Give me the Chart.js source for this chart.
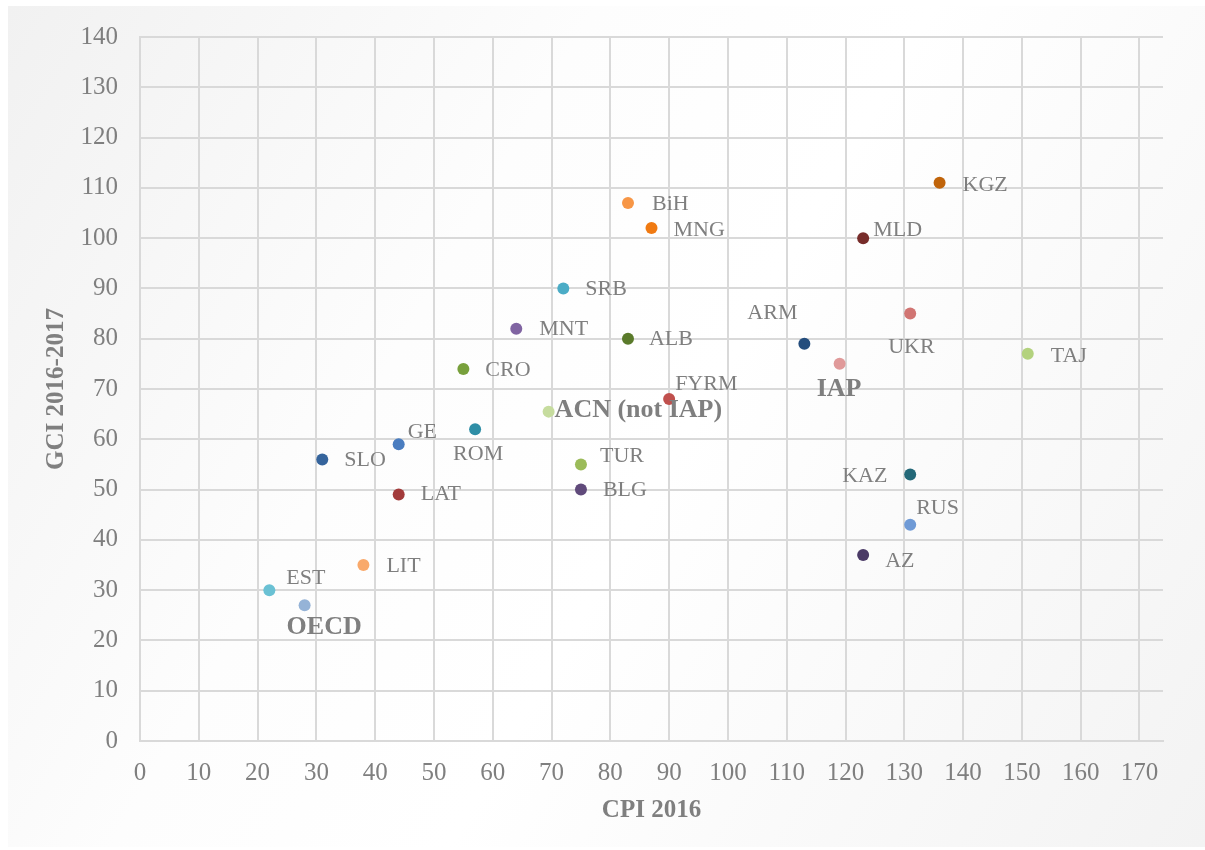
<!DOCTYPE html>
<html>
<head>
<meta charset="utf-8">
<script src="https://cdn.jsdelivr.net/npm/chart.js@4/dist/chart.umd.min.js"></script>
<style>
  body { margin: 0; background: #ffffff; }
  #wrap { position: relative; width: 1205px; height: 850px; }
  #bg {
    position: absolute; left: 8px; top: 6px; width: 1197px; height: 841px;
    background: linear-gradient(120deg, #f1f1f1 0%, #fdfdfd 35%, #ffffff 55%, #f3f3f3 100%);
  }
  #chart { position: absolute; left: 0; top: 0; }
</style>
</head>
<body>
<div id="wrap">
  <div id="bg"></div>
  <canvas id="chart" width="1205" height="850"></canvas>
</div>
<script>
// -----------------------------
// data
// -----------------------------
const countries = ["EST", "OECD", "LIT", "LAT", "SLO", "GE", "ROM", "CRO", "MNT", "ALB",
  "SRB", "BiH", "MNG", "FYRM", "ACN (not IAP)", "TUR", "BLG", "ARM", "IAP", "UKR",
  "MLD", "KGZ", "TAJ", "KAZ", "RUS", "AZ"];
const cpi = [22, 28, 38, 44, 31, 44, 57, 55, 64, 83,
  72, 83, 87, 90, 69.5, 75, 75, 113, 119, 131,
  123, 136, 151, 131, 131, 123];
const gci = [30, 27, 35, 49, 56, 59, 62, 74, 82, 80,
  90, 107, 102, 68, 65.5, 55, 50, 79, 75, 85,
  100, 111, 77, 53, 43, 37];
const xTicks = [0, 10, 20, 30, 40, 50, 60, 70, 80, 90, 100, 110, 120, 130, 140, 150, 160, 170];
const yTicks = [0, 10, 20, 30, 40, 50, 60, 70, 80, 90, 100, 110, 120, 130, 140];

// colours of the dots
const dotColors = ["#6ac1d4", "#95b3d7", "#f9a96b", "#a33b3b", "#35649c", "#4a7dc0", "#2e8ea6", "#78a03c", "#8064a2", "#5a7a2a",
  "#4bacc6", "#f79646", "#f07a12", "#c0504d", "#c6dc9e", "#9bbb59", "#604a7b", "#254e7d", "#e09a9a", "#d17573",
  "#772c2a", "#c0640a", "#b3d27e", "#236878", "#6f9ad6", "#4a3a66"];

// where each label sits next to its dot (px)
const labelOffsets = {
  "EST": [17, -12], "OECD": [-18, 22], "LIT": [23, 1], "LAT": [22, 0], "SLO": [22, 1],
  "GE": [9, -12], "ROM": [-22, 25], "CRO": [22, 1], "MNT": [23, 1], "ALB": [21, 1],
  "SRB": [22, 1], "BiH": [24, 1], "MNG": [22, 2], "FYRM": [6, -15], "ACN (not IAP)": [6, -1],
  "TUR": [19, -8], "BLG": [22, 1], "ARM": [-57, -31], "IAP": [-23, 25], "UKR": [-22, 34],
  "MLD": [10, -8], "KGZ": [23, 2], "TAJ": [23, 2], "KAZ": [-68, 2], "RUS": [6, -17], "AZ": [22, 6]
};
const boldLabels = ["OECD", "ACN (not IAP)", "IAP"];

const GREY = "#7f7f7f";
const GRID = "#d9d9d9";
const FONT = "'Liberation Serif', 'DejaVu Serif', serif";

// -----------------------------
// labels next to the dots
// -----------------------------
const pointLabels = {
  id: "pointLabels",
  afterDatasetsDraw(chart) {
    const ctx = chart.ctx;
    const meta = chart.getDatasetMeta(0);
    ctx.save();
    ctx.textAlign = "left";
    ctx.textBaseline = "middle";
    meta.data.forEach((pt, i) => {
      const name = countries[i];
      const off = labelOffsets[name] || [20, 0];
      const bold = boldLabels.includes(name);
      ctx.font = bold ? "bold 26px " + FONT : "22px " + FONT;
      ctx.fillStyle = GREY;
      ctx.fillText(name, pt.x + off[0], pt.y + off[1]);
    });
    ctx.restore();
  }
};

const ctx = document.getElementById("chart").getContext("2d");
new Chart(ctx, {
  type: "scatter",
  data: {
    datasets: [{
      data: cpi.map((v, i) => ({ x: v, y: gci[i] })),
      pointBackgroundColor: dotColors,
      pointBorderWidth: 0,
      pointRadius: 6,
      pointHoverRadius: 6
    }]
  },
  options: {
    responsive: false,
    animation: false,
    events: [],
    layout: { padding: { left: 0, top: 36, right: 42, bottom: 0 } },
    plugins: {
      legend: { display: false },
      tooltip: { enabled: false }
    },
    scales: {
      x: {
        type: "linear",
        min: 0,
        max: 174,
        afterBuildTicks: axis => { axis.ticks = xTicks.map(v => ({ value: v })); },
        afterFit: scale => { scale.height = 109; },
        ticks: { color: GREY, font: { family: FONT, size: 25 }, padding: 17, maxRotation: 0 },
        grid: { color: GRID, lineWidth: 2, drawTicks: false },
        border: { color: GRID, width: 2 },
        title: {
          display: true,
          text: "CPI 2016",
          color: GREY,
          font: { family: FONT, size: 25, weight: "bold" },
          padding: { top: 0, bottom: 24 }
        }
      },
      y: {
        type: "linear",
        min: 0,
        max: 140,
        afterBuildTicks: axis => { axis.ticks = yTicks.map(v => ({ value: v })); },
        afterFit: scale => { scale.width = 140; },
        ticks: { color: GREY, font: { family: FONT, size: 25 }, padding: 22 },
        grid: { color: GRID, lineWidth: 2, drawTicks: false },
        border: { color: GRID, width: 2 },
        title: {
          display: true,
          text: "GCI 2016-2017",
          color: GREY,
          font: { family: FONT, size: 25, weight: "bold" },
          padding: { top: 42, bottom: 0 }
        }
      }
    }
  },
  plugins: [pointLabels]
});
</script>
</body>
</html>
